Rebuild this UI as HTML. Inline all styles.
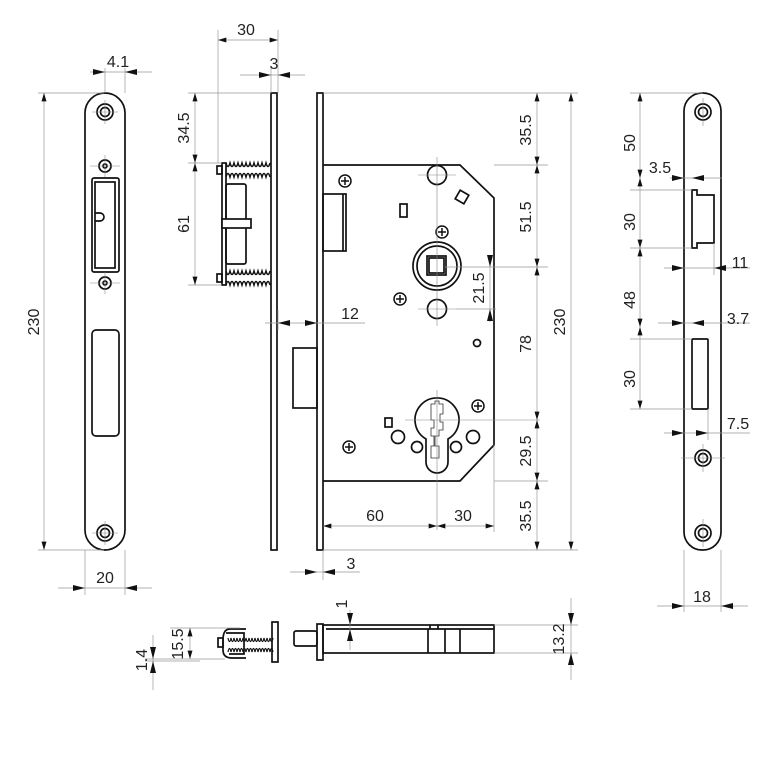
<!DOCTYPE html>
<html><head><meta charset="utf-8"><style>
html,body{margin:0;padding:0;background:#fff}
svg{display:block}
text{font-family:"Liberation Sans",sans-serif;font-size:16px;fill:#222}
.k{fill:none;stroke:#111;stroke-width:1.7}
.kw{fill:#fff;stroke:#111;stroke-width:1.7}
.d{fill:none;stroke:#999;stroke-width:0.7}
.a{fill:none;stroke:#999;stroke-width:0.7;marker-start:url(#m);marker-end:url(#m)}
.c{fill:none;stroke:#888;stroke-width:0.6}
</style></head><body>
<svg width="768" height="768" viewBox="0 0 768 768" xmlns="http://www.w3.org/2000/svg">
<defs>
<marker id="m" viewBox="0 0 10 6" refX="10" refY="3" markerWidth="10" markerHeight="5" markerUnits="userSpaceOnUse" orient="auto-start-reverse"><path d="M0,0L10,3L0,6z" fill="#111"/></marker>
</defs>

<!-- LEFT STRIKE PLATE -->
<rect class="k" x="85" y="93" width="40" height="457" rx="20"/>
<g class="k">
<circle cx="105" cy="112" r="8"/><circle cx="105" cy="112" r="4.5"/>
<circle cx="105" cy="533" r="8"/><circle cx="105" cy="533" r="4.5"/>
<circle cx="105" cy="166" r="6"/><circle cx="105" cy="166" r="2"/>
<circle cx="105" cy="283" r="6"/><circle cx="105" cy="283" r="2"/>
<rect x="92" y="178" width="27" height="94" rx="2"/>
<rect x="95" y="182" width="20" height="86"/>
<path d="M95,213 h5 a4,4 0 0 1 0,8 h-5"/>
<rect x="92" y="330" width="27" height="106" rx="4"/>
</g>
<g class="c"><line x1="105" y1="100" x2="105" y2="124"/><line x1="105" y1="521" x2="105" y2="545"/><line x1="92" y1="112" x2="118" y2="112"/><line x1="92" y1="533" x2="118" y2="533"/><line x1="105" y1="155" x2="105" y2="177"/><line x1="105" y1="272" x2="105" y2="294"/><line x1="90" y1="166" x2="120" y2="166"/><line x1="90" y1="283" x2="120" y2="283"/></g>
<line class="d" x1="38" y1="93" x2="104" y2="93"/><line class="d" x1="38" y1="550" x2="104" y2="550"/>
<line class="a" x1="44" y1="93" x2="44" y2="550"/>
<text transform="translate(39,322) rotate(-90)" text-anchor="middle">230</text>
<line class="d" x1="85" y1="550" x2="85" y2="595"/><line class="d" x1="125" y1="550" x2="125" y2="595"/>
<line class="d" x1="58" y1="588" x2="152" y2="588"/>
<path d="M73,585L85,588L73,591z M137,585L125,588L137,591z" fill="#111"/>
<text x="105" y="583" text-anchor="middle">20</text>
<line class="d" x1="105" y1="68" x2="105" y2="93"/><line class="d" x1="125" y1="68" x2="125" y2="93"/>
<line class="d" x1="90" y1="72" x2="152" y2="72"/>
<path d="M93,69L105,72L93,75z M137,69L125,72L137,75z" fill="#111"/>
<text x="118" y="67" text-anchor="middle">4.1</text>

<!-- LATCH SIDE + FACEPLATE -->
<rect class="k" x="271" y="93" width="6" height="457"/>
<g class="k">
<rect x="222" y="163" width="4" height="122"/>
<rect x="217" y="166" width="5" height="8"/><rect x="217" y="274" width="5" height="8"/>
<rect x="226" y="184" width="20" height="80" rx="2"/>
<rect class="kw" x="222" y="219" width="29" height="9"/>
</g>
<path d="M226,163 q2,7 4,0 q2,7 4,0 q2,7 4,0 q2,7 4,0 q2,7 4,0 q2,7 4,0 q2,7 4,0 q2,7 4,0 q2,7 4,0 q2,7 4,0 q2,7 4,0 M226,177 q2,-7 4,0 q2,-7 4,0 q2,-7 4,0 q2,-7 4,0 q2,-7 4,0 q2,-7 4,0 q2,-7 4,0 q2,-7 4,0 q2,-7 4,0 q2,-7 4,0 q2,-7 4,0 M226,271 q2,7 4,0 q2,7 4,0 q2,7 4,0 q2,7 4,0 q2,7 4,0 q2,7 4,0 q2,7 4,0 q2,7 4,0 q2,7 4,0 q2,7 4,0 q2,7 4,0 M226,285 q2,-7 4,0 q2,-7 4,0 q2,-7 4,0 q2,-7 4,0 q2,-7 4,0 q2,-7 4,0 q2,-7 4,0 q2,-7 4,0 q2,-7 4,0 q2,-7 4,0 q2,-7 4,0" fill="none" stroke="#111" stroke-width="1.5"/>
<line class="d" x1="188" y1="93" x2="271" y2="93"/><line class="d" x1="188" y1="163" x2="222" y2="163"/><line class="d" x1="188" y1="285" x2="222" y2="285"/>
<line class="a" x1="195" y1="93" x2="195" y2="163"/><line class="a" x1="195" y1="163" x2="195" y2="285"/>
<text transform="translate(189,128) rotate(-90)" text-anchor="middle">34.5</text>
<text transform="translate(189,224) rotate(-90)" text-anchor="middle">61</text>
<line class="d" x1="218" y1="30" x2="218" y2="163"/><line class="d" x1="278" y1="30" x2="278" y2="93"/>
<line class="a" x1="218" y1="40" x2="278" y2="40"/>
<text x="246" y="35" text-anchor="middle">30</text>
<line class="d" x1="271" y1="68" x2="271" y2="93"/>
<line class="d" x1="240" y1="75" x2="305" y2="75"/>
<path d="M259,72L271,75L259,78z M290,72L278,75L290,78z" fill="#111"/>
<text x="274" y="69" text-anchor="middle">3</text>

<!-- LOCK BODY -->
<rect class="k" x="317" y="93" width="6" height="457"/>
<path class="k" d="M323,165 H460 L494,198 V445 L460,481 H323"/>
<rect class="k" x="323" y="194" width="23" height="57"/>
<line class="k" x1="343" y1="194" x2="343" y2="251"/>
<rect class="k" x="293" y="348" width="24" height="60"/>
<g class="k">
<circle cx="437" cy="266" r="24"/><circle cx="437" cy="266" r="20"/>
<rect x="427" y="256" width="19" height="19"/><rect x="429" y="258" width="15" height="15"/>
<circle cx="437" cy="175" r="9.5"/><circle cx="437" cy="309" r="9.5"/>
<rect x="457" y="192" width="10" height="10" transform="rotate(30 462 197)"/>
<rect x="400" y="204" width="7" height="13"/>
<circle cx="477" cy="343" r="3.5"/>
<circle cx="398" cy="437" r="6.5"/><circle cx="473" cy="437" r="6.5"/>
<circle cx="417" cy="447" r="5.5"/><circle cx="456" cy="447" r="5.5"/>
<rect x="385" y="418" width="7" height="9"/>
<path d="M426,439 A22,22 0 1 1 448,439 V462 A11,11 0 0 1 426,462 Z"/>
</g>
<path d="M431,404 h4 v-3 h4 v3 h4 v10 h-3 v8 h3 v8 h-4 v6 h-4 v10 h4 v12 h-8 v-12 h3 v-10 h-3 v-8 h3 v-8 h-3z" fill="none" stroke="#333" stroke-width="0.8"/>
<g stroke="#111" stroke-width="1.5" fill="#fff">
<circle cx="345" cy="181" r="6"/><circle cx="442" cy="232" r="6"/><circle cx="400" cy="299" r="6"/><circle cx="478" cy="406" r="6"/><circle cx="349" cy="447" r="6"/>
</g>
<path stroke="#111" stroke-width="1.5" d="M341,181h8M345,177v8 M438,232h8M442,228v8 M396,299h8M400,295v8 M474,406h8M478,402v8 M345,447h8M349,443v8"/>
<g class="c"><line x1="437" y1="157" x2="437" y2="326"/><line x1="418" y1="175" x2="456" y2="175"/><line x1="418" y1="309" x2="456" y2="309"/><line x1="437" y1="390" x2="437" y2="530"/><line x1="405" y1="420" x2="540" y2="420"/></g>
<!-- right dims -->
<line class="d" x1="323" y1="93" x2="578" y2="93"/><line class="d" x1="494" y1="165" x2="548" y2="165"/>
<line class="d" x1="445" y1="267" x2="548" y2="267"/><line class="d" x1="456" y1="309" x2="496" y2="309"/>
<line class="d" x1="494" y1="481" x2="548" y2="481"/><line class="d" x1="323" y1="550" x2="578" y2="550"/>
<line class="a" x1="537" y1="93" x2="537" y2="165"/><line class="a" x1="537" y1="165" x2="537" y2="267"/>
<line class="a" x1="537" y1="267" x2="537" y2="420"/><line class="a" x1="537" y1="420" x2="537" y2="481"/>
<line class="a" x1="537" y1="481" x2="537" y2="550"/>
<line class="a" x1="571" y1="93" x2="571" y2="550"/>
<line class="d" x1="490" y1="255" x2="490" y2="322"/>
<path d="M487,255L490,267L493,255z M487,321L490,309L493,321z" fill="#111"/>
<text transform="translate(531,130) rotate(-90)" text-anchor="middle">35.5</text>
<text transform="translate(531,217) rotate(-90)" text-anchor="middle">51.5</text>
<text transform="translate(531,344) rotate(-90)" text-anchor="middle">78</text>
<text transform="translate(531,451) rotate(-90)" text-anchor="middle">29.5</text>
<text transform="translate(531,516) rotate(-90)" text-anchor="middle">35.5</text>
<text transform="translate(565,322) rotate(-90)" text-anchor="middle">230</text>
<text transform="translate(484,288) rotate(-90)" text-anchor="middle">21.5</text>
<line class="d" x1="494" y1="445" x2="494" y2="532"/>
<line class="a" x1="323" y1="526" x2="437" y2="526"/><line class="a" x1="437" y1="526" x2="494" y2="526"/>
<text x="375" y="521" text-anchor="middle">60</text><text x="463" y="521" text-anchor="middle">30</text>
<line class="d" x1="278" y1="310" x2="278" y2="330"/>
<line class="d" x1="265" y1="323" x2="365" y2="323"/>
<path d="M290,320L278,323L290,326z M305,320L317,323L305,326z" fill="#111"/>
<text x="350" y="319" text-anchor="middle">12</text>
<line class="d" x1="323" y1="550" x2="323" y2="580"/>
<line class="d" x1="290" y1="572" x2="360" y2="572"/>
<path d="M305,569L317,572L305,575z M335,569L323,572L335,575z" fill="#111"/>
<text x="351" y="569" text-anchor="middle">3</text>

<!-- BOTTOM VIEWS -->
<rect class="k" x="272" y="622" width="6" height="40"/>
<path d="M228,638 q1.5,7 3,0 q1.5,7 3,0 q1.5,7 3,0 q1.5,7 3,0 q1.5,7 3,0 q1.5,7 3,0 q1.5,7 3,0 q1.5,7 3,0 q1.5,7 3,0 q1.5,7 3,0 q1.5,7 3,0 q1.5,7 3,0 q1.5,7 3,0 q1.5,7 3,0 q1.5,7 3,0 M228,652 q1.5,-7 3,0 q1.5,-7 3,0 q1.5,-7 3,0 q1.5,-7 3,0 q1.5,-7 3,0 q1.5,-7 3,0 q1.5,-7 3,0 q1.5,-7 3,0 q1.5,-7 3,0 q1.5,-7 3,0 q1.5,-7 3,0 q1.5,-7 3,0 q1.5,-7 3,0 q1.5,-7 3,0 q1.5,-7 3,0" fill="none" stroke="#111" stroke-width="1.2"/>
<path class="k" d="M246,629 H230 Q223,629 223,640 V650 Q223,658 232,658 H246 M226,633 H244 V654 H229"/>
<rect class="k" x="218" y="638" width="5" height="9"/>
<line class="d" x1="170" y1="628" x2="240" y2="628"/><line class="d" x1="145" y1="659" x2="225" y2="659"/><line class="d" x1="145" y1="661" x2="200" y2="661"/>
<line class="a" x1="190" y1="628" x2="190" y2="659"/>
<line class="d" x1="153" y1="635" x2="153" y2="690"/>
<path d="M150,647L153,659L156,647z M150,673L153,661L156,673z" fill="#111"/>
<text transform="translate(183,644) rotate(-90)" text-anchor="middle">15.5</text>
<text transform="translate(147,660) rotate(-90)" text-anchor="middle">1.4</text>
<rect class="k" x="294" y="631" width="23" height="15" rx="2"/>
<rect class="k" x="317" y="624" width="6" height="36"/>
<rect class="k" x="323" y="625" width="171" height="28"/>
<line class="k" x1="326" y1="629" x2="494" y2="629" stroke-width="1"/>
<path class="k" d="M428,629 V653 M445,629 V653 M460,629 V653 M430,625 v4 M438,625 v4" stroke-width="1"/>
<line class="d" x1="350" y1="610" x2="350" y2="650"/>
<path d="M347,613L350,625L353,613z M347,641L350,629L353,641z" fill="#111"/>
<text transform="translate(347,604) rotate(-90)" text-anchor="middle">1</text>
<line class="d" x1="494" y1="625" x2="578" y2="625"/><line class="d" x1="494" y1="653" x2="578" y2="653"/>
<line class="d" x1="571" y1="598" x2="571" y2="680"/>
<path d="M568,613L571,625L574,613z M568,665L571,653L574,665z" fill="#111"/>
<text transform="translate(564,639) rotate(-90)" text-anchor="middle">13.2</text>

<!-- RIGHT STRIKE -->
<rect class="k" x="684" y="93" width="37" height="457" rx="18"/>
<g class="k">
<circle cx="703" cy="112" r="8"/><circle cx="703" cy="112" r="4.5"/>
<circle cx="703" cy="458" r="8"/><circle cx="703" cy="458" r="4.5"/>
<circle cx="703" cy="533" r="8"/><circle cx="703" cy="533" r="4.5"/>
<path d="M692,190 H697 V195 H714 V243 H697 V248 H692 Z"/>
<rect x="692" y="339" width="16" height="70" rx="1"/>
</g>
<g class="c"><line x1="703" y1="98" x2="703" y2="126"/><line x1="703" y1="444" x2="703" y2="472"/><line x1="703" y1="519" x2="703" y2="547"/><line x1="681" y1="458" x2="725" y2="458"/></g>
<line class="d" x1="630" y1="93" x2="703" y2="93"/><line class="d" x1="630" y1="190" x2="692" y2="190"/>
<line class="d" x1="630" y1="248" x2="692" y2="248"/><line class="d" x1="630" y1="339" x2="692" y2="339"/><line class="d" x1="630" y1="409" x2="692" y2="409"/>
<line class="a" x1="640" y1="93" x2="640" y2="178"/><line class="a" x1="640" y1="178" x2="640" y2="248"/>
<line class="a" x1="640" y1="248" x2="640" y2="327"/><line class="a" x1="640" y1="327" x2="640" y2="409"/>
<text transform="translate(635,143) rotate(-90)" text-anchor="middle">50</text>
<text transform="translate(635,222) rotate(-90)" text-anchor="middle">30</text>
<text transform="translate(635,300) rotate(-90)" text-anchor="middle">48</text>
<text transform="translate(635,379) rotate(-90)" text-anchor="middle">30</text>
<line class="d" x1="670" y1="178" x2="722" y2="178"/>
<path d="M672,175L684,178L672,181z M704,175L692,178L704,181z" fill="#111"/>
<text x="660" y="173" text-anchor="middle">3.5</text>
<line class="d" x1="664" y1="268" x2="750" y2="268"/><line class="d" x1="714" y1="243" x2="714" y2="275"/>
<path d="M672,265L684,268L672,271z M726,265L714,268L726,271z" fill="#111"/>
<text x="740" y="268" text-anchor="middle">11</text>
<line class="d" x1="658" y1="323" x2="750" y2="323"/>
<path d="M672,320L684,323L672,326z M704,320L692,323L704,326z" fill="#111"/>
<text x="738" y="324" text-anchor="middle">3.7</text>
<line class="d" x1="664" y1="433" x2="750" y2="433"/><line class="d" x1="708" y1="409" x2="708" y2="440"/>
<path d="M672,430L684,433L672,436z M696,430L708,433L696,436z" fill="#111"/>
<text x="738" y="429" text-anchor="middle">7.5</text>
<line class="d" x1="684" y1="550" x2="684" y2="612"/><line class="d" x1="721" y1="550" x2="721" y2="612"/>
<line class="d" x1="657" y1="606" x2="748" y2="606"/>
<path d="M672,603L684,606L672,609z M733,603L721,606L733,609z" fill="#111"/>
<text x="702" y="602" text-anchor="middle">18</text>
</svg>
</body></html>
